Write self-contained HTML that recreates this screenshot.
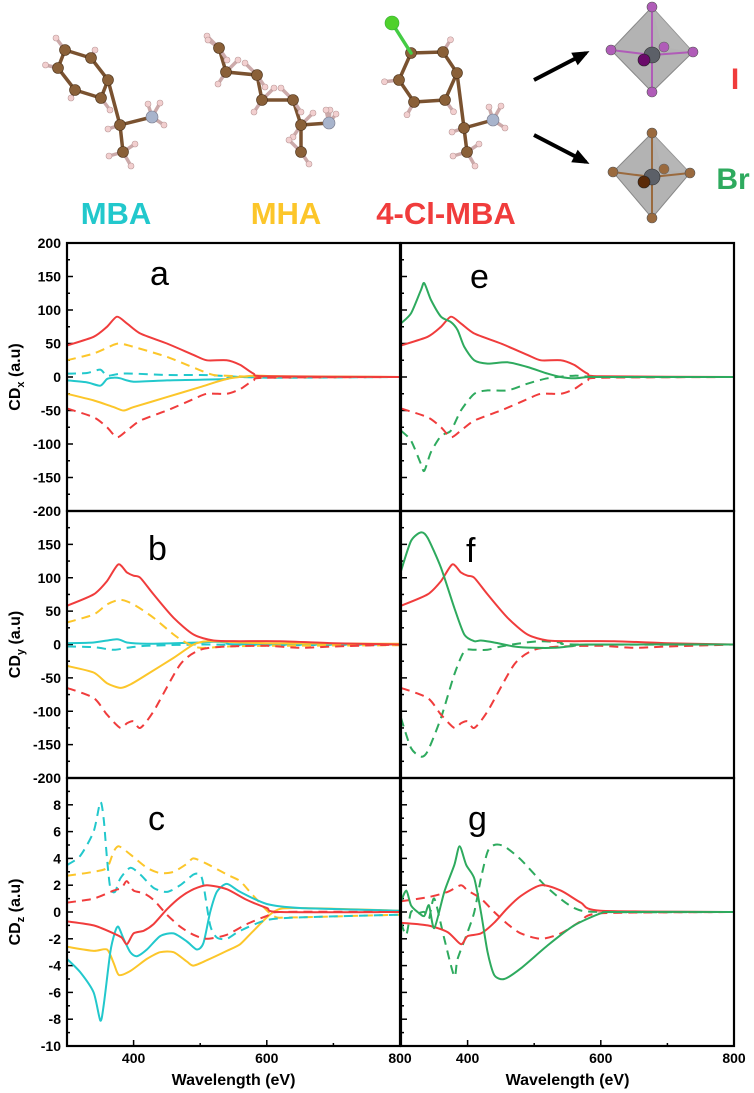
<!DOCTYPE html>
<html><head><meta charset="utf-8"><style>
body{margin:0;background:#fff;}
svg{display:block;font-family:"Liberation Sans",sans-serif;}
</style></head><body>
<svg id="fig" width="754" height="1093" viewBox="0 0 754 1093">
<g id="mol"></g>
<g id="plots"></g>
</svg>
<script>
// ---------- DATA ----------
const xA_red=[300,340,360,375,390,410,450,490,510,540,560,580,600,800];
const yA_red=[47,60,75,90,80,65,50,33,25,25,18,5,1,0];
const yA_redD=[-47,-60,-75,-90,-80,-65,-50,-33,-25,-25,-18,-5,-1,0];
const xA_yelD=[300,340,370,380,400,450,500,520,540,600,800];
const yA_yelD=[25,35,48,50,45,30,10,3,2,0,0];
const xA_yel=[300,340,370,385,400,450,500,540,580,620,800];
const yA_yel=[-25,-35,-45,-50,-45,-30,-15,-3,2,1,0];
const xA_cy=[300,330,350,360,370,380,400,450,500,540,560,800];
const yA_cy=[-5,-8,-13,-3,-1,-2,-7,-5,-4,-3,0,0];
const xA_cyD=[300,330,350,360,380,400,450,500,530,560,600,650,800];
const yA_cyD=[5,6,11,2,5,5,3,3,2,0,-1,-1,0];

const xB_red=[300,340,360,377,390,400,410,430,460,490,520,560,620,700,800];
const yB_red=[58,75,95,120,108,103,100,75,40,15,6,5,5,2,0];
const xB_redD=[300,340,360,380,390,400,410,430,470,500,540,600,650,700,800];
const yB_redD=[-65,-80,-105,-125,-118,-115,-125,-100,-30,-8,-3,-2,-5,-3,0];
const xB_yelD=[300,340,360,380,400,430,460,480,500,540,600,800];
const yB_yelD=[33,45,60,67,60,40,15,2,-5,-3,-2,-1];
const xB_yel=[300,340,360,380,395,420,460,490,510,540,600,800];
const yB_yel=[-32,-42,-58,-65,-60,-45,-20,0,5,4,2,1];
const xB_cy=[300,340,375,390,420,460,500,520,540,560,800];
const yB_cy=[2,3,8,3,1,2,3,4,3,0,0];
const xB_cyD=[300,340,370,390,420,500,600,800];
const yB_cyD=[-3,-4,-8,-5,-2,0,-1,0];

const xC_cy=[300,320,340,350,355,365,372,377,385,395,405,420,440,460,480,495,505,515,525,540,560,600,650,800];
const yC_cy=[-3.5,-4.5,-6,-8.1,-7,-3,-1.5,-1.1,-2,-3.0,-3.3,-2.8,-1.8,-1.6,-2.2,-2.8,-2.3,0,1.5,2.1,1.5,0.6,0.3,0.1];
const xC_cyD=[300,320,340,350,355,360,365,372,380,395,410,430,450,470,490,500,505,515,525,540,560,600,650,800];
const yC_cyD=[3.5,4.2,6,8.2,7,4,1.8,1.5,2.5,3.3,2.8,1.8,1.5,2,2.8,2.8,2,-1,-1.9,-2.0,-1.4,-0.6,-0.4,-0.2];
const xC_yel=[300,340,360,370,378,395,420,440,460,480,490,510,540,560,580,610,640,800];
const yC_yelD=[2.7,3.0,3.3,4.5,4.9,4.3,3.3,2.9,3.0,3.6,4.0,3.6,2.8,2.3,1.2,-0.3,-0.4,-0.2];
const yC_yel=[-2.6,-2.9,-2.8,-3.8,-4.7,-4.4,-3.5,-3.0,-3.0,-3.7,-4.0,-3.6,-2.9,-2.4,-1.4,0,0.3,0.1];
const xC_red=[300,340,370,382,390,400,415,430,450,470,490,510,540,570,600,620,800];
const yC_red=[-0.7,-1.0,-1.6,-1.9,-2.4,-1.6,-1.4,-0.9,0.2,1.1,1.7,2.0,1.7,0.9,0.3,0,0];
const yC_redD=[0.7,1.0,1.6,1.8,2.3,1.6,1.4,0.9,-0.2,-1.1,-1.7,-2.0,-1.7,-0.9,-0.3,0,0];

const xE_gr=[300,315,330,335,345,360,375,385,395,410,430,460,490,520,540,560,580,600,800];
const yE_gr=[80,95,130,140,115,90,82,70,45,25,20,22,15,5,0,-2,0,0,0];
const xE_grD=[300,315,330,335,345,360,375,390,410,430,460,490,520,560,600,800];
const yE_grD=[-80,-95,-130,-140,-112,-88,-80,-50,-25,-20,-20,-10,-2,2,0,0];

const xF_gr=[300,315,330,340,360,380,395,410,420,440,470,500,530,560,580,800];
const yF_gr=[110,155,168,160,115,55,15,5,6,3,-3,-5,-5,-2,0,0];
const xF_grD=[300,315,330,340,360,380,395,410,430,450,480,510,540,560,800];
const yF_grD=[-110,-155,-168,-160,-110,-45,-10,-8,-8,-3,2,5,3,0,0];

const xG_gr=[300,308,315,325,335,342,350,365,380,388,398,410,420,430,440,455,480,520,560,600,620,800];
const yG_gr=[0.8,1.6,0.5,0,-0.3,0.5,-1.2,1.5,3.5,4.9,3.5,2.5,0,-3,-4.7,-5.0,-4.2,-2.5,-1.0,-0.1,0,0];
const xG_grD=[300,308,315,325,335,342,350,365,380,385,400,410,420,430,440,455,480,520,560,600,800];
const yG_grD=[-0.8,-1.7,0,-0.1,0,-0.5,1,-2.0,-4.8,-3.5,-1.5,0,2.5,4.5,5.0,4.9,3.9,1.8,0.3,0,0];
const xG_red=[300,340,370,390,400,420,440,460,480,510,540,570,600,800];
const yG_red=[-0.8,-1.0,-1.5,-2.4,-1.8,-1.6,-0.8,0.3,1.2,2.0,1.6,0.7,0.1,0];
const yG_redD=[0.8,1.1,1.5,2.0,1.6,1.0,0,-0.9,-1.6,-2.0,-1.6,-0.7,-0.1,0];

const yTicksBig=[200,150,100,50,0,-50,-100,-150,-200];
const yTicksBigLbl=["200","150","100","50","0","-50","-100","-150","-200"];
const yTicksSmall=[8,6,4,2,0,-2,-4,-6,-8,-10];
const yTicksSmallLbl=["8","6","4","2","0","-2","-4","-6","-8","-10"];
const xTicks=[400,600,800];
const xTickLbl=["400","600","800"];

// ---------- DRAW ----------
const NS="http://www.w3.org/2000/svg";
const C={cy:"#22c8cc",yel:"#fcc62a",red:"#f03c3c",gr:"#2eaa5e"};
function mk(tag,attrs,parent){const e=document.createElementNS(NS,tag);for(const k in attrs)e.setAttribute(k,attrs[k]);parent.appendChild(e);return e;}
const plots=document.getElementById('plots');
const L0=67,L1=400,R0=401,R1=734;
const rows=[{t:243,b:511,min:-200,max:200},{t:511,b:778,min:-200,max:200},{t:778,b:1046,min:-10,max:10}];
function sx(x0,x1){return v=>x0+(v-300)/500*(x1-x0);}
function sy(r){return v=>r.b-(v-r.min)/(r.max-r.min)*(r.b-r.t);}
function pathD(xs,ys,fx,fy){
  const p=xs.map((x,i)=>[fx(x),fy(ys[i])]);
  let d="M"+p[0][0].toFixed(1)+","+p[0][1].toFixed(1);
  for(let i=0;i<p.length-1;i++){
    const p0=p[i-1]||p[i],p1=p[i],p2=p[i+1],p3=p[i+2]||p2;
    const c1=[p1[0]+(p2[0]-p0[0])/8,p1[1]+(p2[1]-p0[1])/8];
    const c2=[p2[0]-(p3[0]-p1[0])/8,p2[1]-(p3[1]-p1[1])/8];
    d+=` C${c1[0].toFixed(1)},${c1[1].toFixed(1)} ${c2[0].toFixed(1)},${c2[1].toFixed(1)} ${p2[0].toFixed(1)},${p2[1].toFixed(1)}`;
  }
  return d;
}
function series(g,name,xs,ys,fx,fy,col,dash){
  const e=mk('path',{d:pathD(xs,ys,fx,fy),fill:'none',stroke:col,'stroke-width':2,'stroke-dasharray':dash?'9,6':'none'},g);
  
  
}
const panels=[
 {id:'a',row:0,side:0,lines:[['mba-solid',xA_cy,yA_cy,C.cy,0],['mba-dashed',xA_cyD,yA_cyD,C.cy,1],['mha-dashed',xA_yelD,yA_yelD,C.yel,1],['mha-solid',xA_yel,yA_yel,C.yel,0],['clmba-dashed',xA_red,yA_redD,C.red,1],['clmba-solid',xA_red,yA_red,C.red,0]]},
 {id:'b',row:1,side:0,lines:[['mba-solid',xB_cy,yB_cy,C.cy,0],['mba-dashed',xB_cyD,yB_cyD,C.cy,1],['mha-dashed',xB_yelD,yB_yelD,C.yel,1],['mha-solid',xB_yel,yB_yel,C.yel,0],['clmba-dashed',xB_redD,yB_redD,C.red,1],['clmba-solid',xB_red,yB_red,C.red,0]]},
 {id:'c',row:2,side:0,lines:[['mha-dashed',xC_yel,yC_yelD,C.yel,1],['mha-solid',xC_yel,yC_yel,C.yel,0],['mba-dashed',xC_cyD,yC_cyD,C.cy,1],['mba-solid',xC_cy,yC_cy,C.cy,0],['clmba-dashed',xC_red,yC_redD,C.red,1],['clmba-solid',xC_red,yC_red,C.red,0]]},
 {id:'e',row:0,side:1,lines:[['br-dashed',xE_grD,yE_grD,C.gr,1],['i-dashed',xA_red,yA_redD,C.red,1],['i-solid',xA_red,yA_red,C.red,0],['br-solid',xE_gr,yE_gr,C.gr,0]]},
 {id:'f',row:1,side:1,lines:[['br-dashed',xF_grD,yF_grD,C.gr,1],['i-dashed',xB_redD,yB_redD,C.red,1],['i-solid',xB_red,yB_red,C.red,0],['br-solid',xF_gr,yF_gr,C.gr,0]]},
 {id:'g',row:2,side:1,lines:[['br-dashed',xG_grD,yG_grD,C.gr,1],['i-dashed',xG_red,yG_redD,C.red,1],['i-solid',xG_red,yG_red,C.red,0],['br-solid',xG_gr,yG_gr,C.gr,0]]}
];
const letterPos={a:[150,285],b:[148,560],c:[148,830],e:[470,288],f:[466,562],g:[468,830]};
panels.forEach(p=>{
  const r=rows[p.row];const x0=p.side?R0:L0,x1=p.side?R1:L1;
  const fx=sx(x0,x1),fy=sy(r);
  const g=mk('g',{},plots);
  
  
  const big=r.max===200;const ty=big?yTicksBig:yTicksSmall;const step=big?25:1;
  for(let v=r.min;v<=r.max;v+=step){
    const major=ty.includes(v);
    mk('line',{x1:x0,x2:x0+(major?6:3),y1:fy(v),y2:fy(v),stroke:'#000','stroke-width':1.5},g);
  }
  const cl=mk('clipPath',{id:'clip'+p.id},g);
  mk('rect',{x:x0,y:r.t,width:x1-x0,height:r.b-r.t},cl);
  const sg=mk('g',{'clip-path':`url(#clip${p.id})`},g);
  p.lines.forEach(l=>series(sg,'series-'+l[0]+'-'+p.id,l[1],l[2],fx,fy,l[3],l[4]));
  const fr=mk('rect',{x:x0,y:r.t,width:x1-x0,height:r.b-r.t,fill:'none',stroke:'#000','stroke-width':2.2},g);
  
  
  const lt=mk('text',{x:letterPos[p.id][0],y:letterPos[p.id][1],'font-size':34,fill:'#000'},g);
  lt.textContent=p.id;
  
  
  if(p.row===2){
    [400,500,600,700,800].forEach(v=>mk('line',{x1:fx(v),x2:fx(v),y1:r.b,y2:r.b-(v%200===0?6:3),stroke:'#000','stroke-width':1.5},g));
    xTicks.forEach((v,i)=>{
      const t=mk('text',{x:fx(v),y:1063,'font-size':14,'font-weight':'bold','text-anchor':'middle'},g);
      t.textContent=xTickLbl[i];
      
      
    });
    const xt=mk('text',{x:(x0+x1)/2,y:1085,'font-size':16,'font-weight':'bold','text-anchor':'middle'},g);
    xt.textContent='Wavelength (eV)';
    
    
  }
  if(p.side===0){
    const lbl=big?yTicksBigLbl:yTicksSmallLbl;
    ty.forEach((v,i)=>{
      if(p.row===1&&v===200)return;
      const t=mk('text',{x:61,y:fy(v)+5,'font-size':14,'font-weight':'bold','text-anchor':'end'},g);
      t.textContent=lbl[i];
      
      
    });
    const sub=['x','y','z'][p.row];
    const yt=mk('text',{transform:`translate(20,${(r.t+r.b)/2}) rotate(-90)`,'font-size':16,'font-weight':'bold','text-anchor':'middle'},g);
    yt.innerHTML=`CD<tspan font-size="11" dy="4">${sub}</tspan><tspan dy="-4"> (a.u)</tspan>`;
    
    
  }
});

// ---------- MOLECULES ----------
const mol=document.getElementById('mol');
function bond(a,b,col){mk('line',{x1:a[0],y1:a[1],x2:b[0],y2:b[1],stroke:col||'#7a5230','stroke-width':3.5,'stroke-linecap':'round'},mol);}
function atom(p,r,col,edge){mk('circle',{cx:p[0],cy:p[1],r:r,fill:col,stroke:edge||'#4a3018','stroke-width':0.6},mol);}
function H(p,from){bond(from,p,'#caa');atom(p,3,'#f2cfcf','#b99');}
function C_(p){atom(p,5.5,'#8a6038');}
function mbaLike(ring,ch,n,ch3,cl){
  for(let i=0;i<6;i++)bond(ring[i],ring[(i+1)%6]);
  bond(ring[2],ch);bond(ch,n);bond(ch,ch3);
  ring.forEach((p,i)=>{if(i!==2&&!(cl&&i===0)){const c=[(ring[0][0]+ring[3][0])/2,(ring[0][1]+ring[3][1])/2];H([p[0]+(p[0]-c[0])*0.5,p[1]+(p[1]-c[1])*0.5],p);}});
  H([ch[0]-12,ch[1]+4],ch);H([n[0]+8,n[1]-14],n);H([n[0]+12,n[1]+8],n);H([n[0]-4,n[1]-13],n);
  H([ch3[0]-14,ch3[1]+4],ch3);H([ch3[0]+8,ch3[1]+14],ch3);H([ch3[0]+12,ch3[1]-8],ch3);
  ring.forEach(C_);C_(ch);C_(ch3);atom(n,6,'#a8b4cc','#778');
}
mbaLike([[65,50],[91,58],[108,80],[101,98],[75,90],[58,68]],[120,125],[152,117],[123,152]);
const ch=[[219,48],[226,72],[257,75],[262,100],[293,100],[301,125],[301,152]];
for(let i=0;i<ch.length-1;i++)bond(ch[i],ch[i+1]);
bond(ch[5],[329,123]);
ch.forEach((p,i)=>{const s=i%2?1:-1;H([p[0]+s*12,p[1]-12],p);H([p[0]-s*8,p[1]+12],p);});
H([208,40],ch[0]);H([330,110],[329,123]);H([336,114],[329,123]);H([326,110],[329,123]);
ch.forEach(C_);atom([329,123],6,'#a8b4cc','#778');
mbaLike([[411,53],[443,52],[457,73],[445,100],[414,102],[399,80]],[464,128],[493,120],[467,152],true);
bond([411,53],[392,23],'#4c4');atom([392,23],7,'#4fd12c','#3a3');
function arrow(a,b){mk('line',{x1:a[0],y1:a[1],x2:b[0],y2:b[1],stroke:'#000','stroke-width':4},mol);
 const ang=Math.atan2(b[1]-a[1],b[0]-a[0]),L=13,W=7;
 const p=[[b[0]+Math.cos(ang)*4,b[1]+Math.sin(ang)*4],[b[0]-L*Math.cos(ang)+W*Math.sin(ang),b[1]-L*Math.sin(ang)-W*Math.cos(ang)],[b[0]-L*Math.cos(ang)-W*Math.sin(ang),b[1]-L*Math.sin(ang)+W*Math.cos(ang)]];
 mk('polygon',{points:p.map(q=>q.join(',')).join(' '),fill:'#000'},mol);}
arrow([534,80],[586,53]);arrow([534,135],[586,162]);
function octa(c,t,bt,l,r,col,dark){
  mk('polygon',{points:`${t} ${l} ${bt} ${r}`,fill:'#9a9a9a','fill-opacity':0.75,stroke:'#888'},mol);
  mk('polygon',{points:`${t} ${c[0]+10},${c[1]-8} ${r}`,fill:'#b8b8b8','fill-opacity':0.6},mol);
  [t,bt,l,r].forEach(p=>{mk('line',{x1:c[0],y1:c[1],x2:p[0],y2:p[1],stroke:col,'stroke-width':2},mol);});
  atom([c[0]+12,c[1]-8],5,col,'#666');
  atom(c,8,'#5c6068','#333');
  [t,bt,l,r].forEach(p=>atom(p,5,col,'#555'));
  atom([c[0]-8,c[1]+5],6,dark,'#222');
}
octa([652,55],[652,7],[652,92],[611,50],[693,52],'#b05cb8','#6a0a6a');
octa([652,177],[652,133],[652,218],[613,172],[690,173],'#9a6a3e','#5a2a08');
[['MBA',116,C.cy,'label-mba'],['MHA',286,C.yel,'label-mha'],['4-Cl-MBA',446,C.red,'label-4-cl-mba']].forEach(a=>{
  const t=mk('text',{x:a[1],y:224,'font-size':31,'font-weight':'bold',fill:a[2],'text-anchor':'middle'},mol);
  t.textContent=a[0];
  
  
});
const ti=mk('text',{x:735,y:89,'font-size':30,'font-weight':'bold',fill:C.red,'text-anchor':'middle'},mol);
ti.textContent='I';


const tb=mk('text',{x:733,y:189,'font-size':30,'font-weight':'bold',fill:C.gr,'text-anchor':'middle'},mol);
tb.textContent='Br';


</script>
</body></html>
